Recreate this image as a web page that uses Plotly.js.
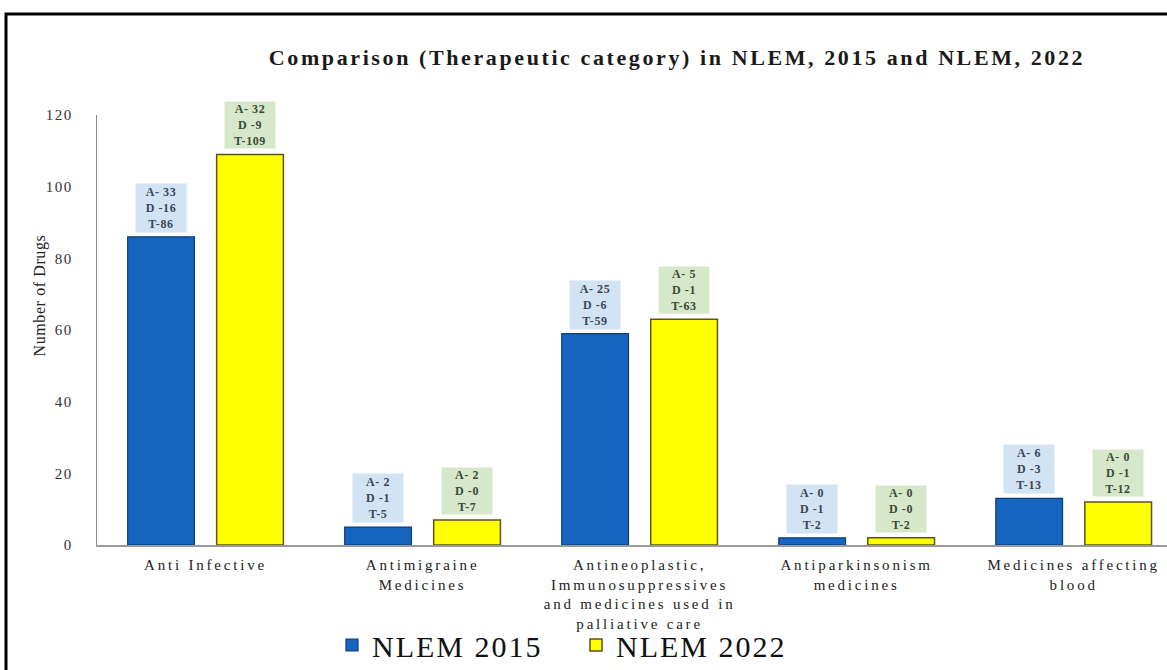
<!DOCTYPE html>
<html>
<head>
<meta charset="utf-8">
<script src="https://cdn.plot.ly/plotly-3.0.1.min.js"></script>
<style>
  html, body { margin: 0; padding: 0; background: #fff; }
  #chart { width: 1167px; height: 670px; }
  #chart .gtitle { letter-spacing: 2.6px; }
  #chart .xtick text { letter-spacing: 2.8px; }
  #chart .ytick text { letter-spacing: 1.5px; }
  #chart .annotation-text { letter-spacing: 0.6px; }
  #chart .legendtext { letter-spacing: 2px; }
</style>
</head>
<body>
<div id="chart"></div>
<script>
// ---- data ----
const categories = [
  "Anti Infective",
  "Antimigraine<br>Medicines",
  "Antineoplastic,<br>Immunosuppressives<br>and medicines used in<br>palliative care",
  "Antiparkinsonism<br>medicines",
  "Medicines affecting<br>blood"
];
const nlem2015 = [86, 5, 59, 2, 13];
const nlem2022 = [109, 7, 63, 2, 12];
const added2015 = [33, 2, 25, 0, 6];
const deleted2015 = [16, 1, 6, 1, 3];
const added2022 = [32, 2, 5, 0, 0];
const deleted2022 = [9, 0, 1, 0, 1];
const yTicks = [0, 20, 40, 60, 80, 100, 120];

// ---- layout parameters ----
const W = 1167, H = 670;
const M = { l: 97, r: 0, t: 115, b: 125, autoexpand: false };
const bargap = 0.18, bargroupgap = 0.25;
const serif = "Liberation Serif, Times New Roman, serif";

const traces = [
  {
    type: "bar", name: "NLEM 2015", x: categories.map((_, i) => i), y: nlem2015,
    marker: { color: "#1565C0", line: { color: "#0b3f7a", width: 1.2 } },
    hoverinfo: "y"
  },
  {
    type: "bar", name: "NLEM 2022", x: categories.map((_, i) => i), y: nlem2022,
    marker: { color: "#FFFF00", line: { color: "#5e5220", width: 1.5 } },
    hoverinfo: "y"
  }
];

// annotation offset from layout parameters (half slot of a grouped bar)
const slot = (1 - bargap) / 2;
const off = slot / 2;
const annotations = [];
categories.forEach((c, i) => {
  annotations.push({
    x: i - off, y: nlem2015[i], xref: "x", yref: "y",
    yanchor: "bottom", yshift: 4, showarrow: false,
    width: 48, height: 46,
    text: "<b>A- " + added2015[i] + "<br>D -" + deleted2015[i] + "<br>T-" + nlem2015[i] + "</b>",
    font: { family: serif, size: 12, color: "#3b4656" },
    bgcolor: "#d2e3f3", borderpad: 1, align: "center", valign: "middle"
  });
  annotations.push({
    x: i + off, y: nlem2022[i], xref: "x", yref: "y",
    yanchor: "bottom", yshift: 5, showarrow: false,
    width: 48, height: 44,
    text: "<b>A- " + added2022[i] + "<br>D -" + deleted2022[i] + "<br>T-" + nlem2022[i] + "</b>",
    font: { family: serif, size: 12, color: "#3b4a3a" },
    bgcolor: "#d5e8c9", borderpad: 1, align: "center", valign: "middle"
  });
});

const plotW = W - M.l - M.r, plotH = H - M.t - M.b;
const px2x = p => (p - M.l) / plotW;
const py2y = p => (H - M.b - p) / plotH;

// y-axis title as a rotated annotation (placed like the reference, above plot centre)
annotations.push({
  xref: "paper", yref: "paper", x: px2x(40), y: py2y(296),
  xanchor: "center", yanchor: "middle", showarrow: false, textangle: -90,
  text: "Number of Drugs",
  font: { family: serif, size: 16, color: "#222" }
});

const layout = {
  width: W, height: H,
  margin: M,
  paper_bgcolor: "#fff", plot_bgcolor: "#fff",
  barmode: "group", bargap: bargap, bargroupgap: bargroupgap,
  title: {
    text: "<b>Comparison (Therapeutic category) in NLEM, 2015 and NLEM, 2022</b>",
    font: { family: serif, size: 22, color: "#1a1a1a" },
    x: px2x(677), xref: "paper", xanchor: "center", y: 0.915, yanchor: "middle"
  },
  xaxis: {
    type: "linear",
    range: [-0.5, 4.43],
    tickmode: "array", tickvals: categories.map((_, i) => i), ticktext: categories,
    showline: true, linecolor: "#9a9a9a", linewidth: 2,
    ticks: "", showgrid: false, zeroline: false,
    ticklabelstandoff: 5,
    tickfont: { family: serif, size: 15, color: "#222" }
  },
  yaxis: {
    range: [0, 120],
    tickmode: "array", tickvals: yTicks,
    showline: true, linecolor: "#8a8a8a", linewidth: 1.2,
    ticks: "", showgrid: false, zeroline: false,
    ticklabelstandoff: 20,
    tickfont: { family: serif, size: 15, color: "#333" }
  },
  legend: {
    orientation: "h", x: px2x(332), xanchor: "left", y: py2y(619), yanchor: "top",
    bgcolor: "rgba(0,0,0,0)",
    font: { family: serif, size: 30, color: "#111" },
    itemwidth: 30, traceorder: "normal", entrywidth: 199, entrywidthmode: "pixels"
  },
  annotations: annotations,
  shapes: [
    { type: "rect", xref: "paper", yref: "paper",
      x0: px2x(6), x1: px2x(1180), y0: py2y(690), y1: py2y(14),
      line: { color: "#000", width: 3 }, fillcolor: "rgba(0,0,0,0)", layer: "above" }
  ],
  showlegend: true
};

Plotly.newPlot("chart", traces, layout, { displayModeBar: false, staticPlot: true });
</script>
</body>
</html>
